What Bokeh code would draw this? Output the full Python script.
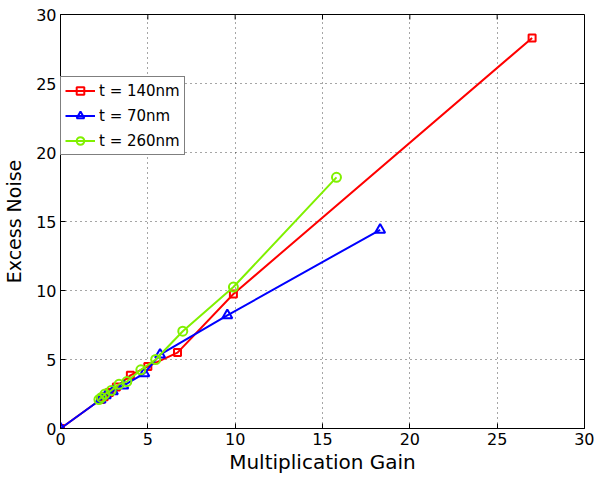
import math
from bokeh.plotting import figure
from bokeh.models import Range1d, Legend, LegendItem, FixedTicker
from bokeh.embed import file_html
from bokeh.resources import INLINE

# data
red_x = [0, 2.3, 2.5, 2.8, 3.2, 4.0, 5.0, 6.7, 9.9, 27.0]
red_y = [0, 2.1, 2.3, 2.6, 3.0, 3.85, 4.5, 5.5, 9.75, 28.3]
blue_x = [0, 2.3, 2.6, 3.0, 3.6, 4.8, 5.7, 9.55, 18.3]
blue_y = [0, 2.1, 2.4, 2.7, 3.1, 4.0, 5.35, 8.2, 14.4]
green_x = [2.2, 2.35, 2.55, 2.9, 3.35, 3.8, 4.6, 5.45, 7.0, 9.9, 15.8]
green_y = [2.1, 2.25, 2.5, 2.75, 3.2, 3.4, 4.25, 5.0, 7.05, 10.25, 18.2]
labels = ["t = 140nm", "t = 70nm", "t = 260nm"]
ticks = [0, 5, 10, 15, 20, 25, 30]

FONT = "DejaVu Sans"
RED, BLUE, GREEN = "#FF0000", "#0000FF", "#80F000"

p = figure(width=594, height=476, output_backend="svg", toolbar_location=None,
           x_range=Range1d(0, 30), y_range=Range1d(0, 30),
           min_border_left=58, min_border_right=10, min_border_top=14, min_border_bottom=48)
p.outline_line_color = "black"
p.outline_line_width = 1
p.outline_line_alpha = 1

for ax in [p.xaxis[0], p.yaxis[0]]:
    ax.ticker = FixedTicker(ticks=ticks)
    ax.major_tick_in = 5
    ax.major_tick_out = 0
    ax.minor_tick_line_color = None
    ax.major_label_text_font = FONT
    ax.major_label_text_font_size = "16px"
    ax.major_label_text_color = "black"
    ax.axis_label_text_font = FONT
    ax.axis_label_text_color = "black"
    ax.axis_label_text_font_style = "normal"
    ax.axis_line_color = "black"
p.xaxis.axis_label = "Multiplication Gain"
p.yaxis.axis_label = "Excess Noise"
p.xaxis.axis_label_text_font_size = "20px"
p.yaxis.axis_label_text_font_size = "19px"
p.xaxis.major_label_standoff = 4
p.yaxis.major_label_standoff = 4
p.xaxis.axis_label_standoff = 2
p.yaxis.axis_label_standoff = 8

# tick marks on the top and right edges of the box
p.ray(x=ticks, y=[30] * len(ticks), length=5, length_units="screen",
      angle=-math.pi / 2, line_color="black", line_width=1)
p.ray(x=[30] * len(ticks), y=ticks, length=5, length_units="screen",
      angle=math.pi, line_color="black", line_width=1)

p.xgrid.ticker = FixedTicker(ticks=ticks)
p.ygrid.ticker = FixedTicker(ticks=ticks)
p.grid.grid_line_color = "black"
p.grid.grid_line_dash = "1 4"
p.grid.grid_line_alpha = 0.7

lr = p.line(red_x, red_y, color=RED, line_width=2)
mr = p.scatter(red_x, red_y, marker="square", size=7, line_color=RED, fill_color=None, line_width=2)
lb = p.line(blue_x, blue_y, color=BLUE, line_width=2)
mb = p.scatter(blue_x, blue_y, marker="triangle", size=10, line_color=BLUE, fill_color=None, line_width=2)
lg = p.line(green_x, green_y, color=GREEN, line_width=2)
mg = p.scatter(green_x, green_y, marker="circle", size=9, line_color=GREEN, fill_color=None, line_width=2)

legend = Legend(items=[LegendItem(label=labels[0], renderers=[lr, mr]),
                       LegendItem(label=labels[1], renderers=[lb, mb]),
                       LegendItem(label=labels[2], renderers=[lg, mg])],
                location=(0, 273), label_text_font=FONT, label_text_font_size="15px",
                label_text_color="black",
                glyph_width=30, glyph_height=19, label_standoff=4, spacing=6, padding=4,
                margin=0, border_line_color="black", border_line_width=1,
                background_fill_alpha=1.0, label_height=19)
p.add_layout(legend, "center")

open("out.html", "w").write(file_html(p, INLINE))
